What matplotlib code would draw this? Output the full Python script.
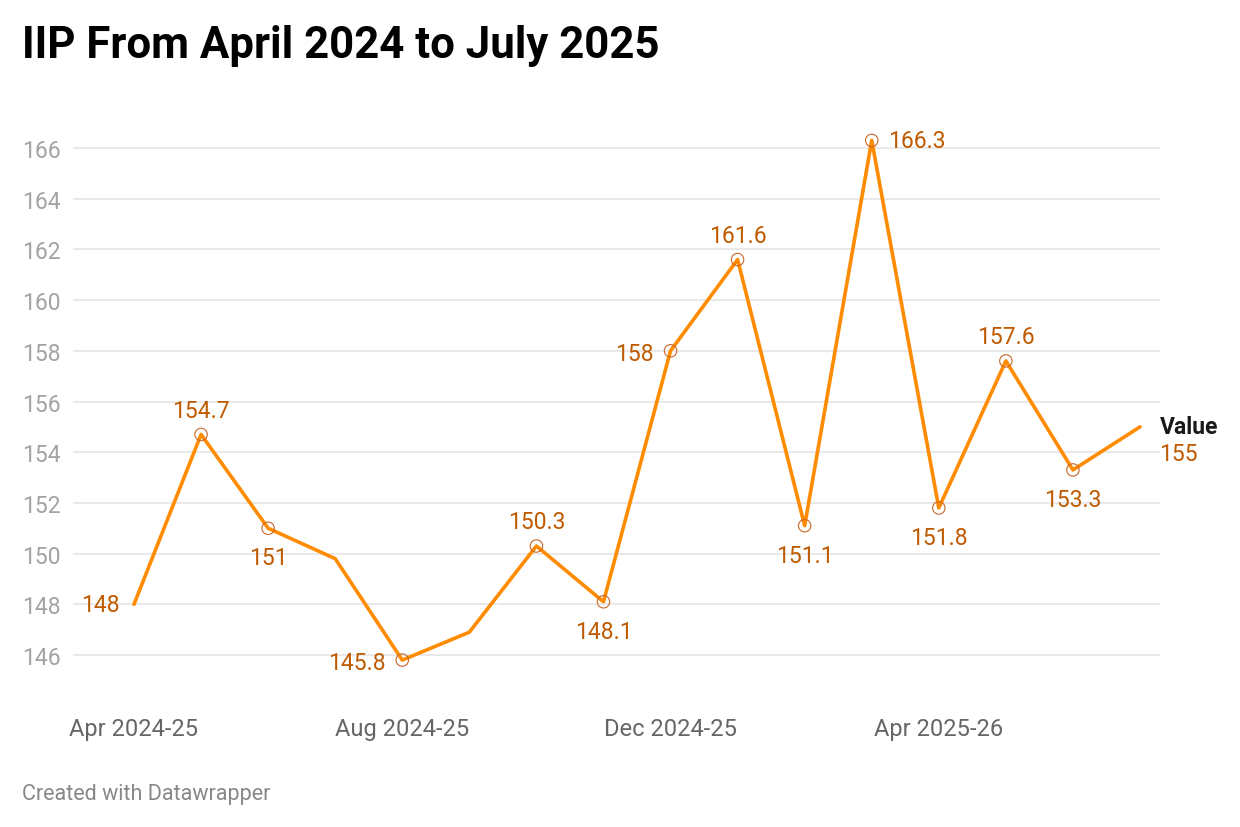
import matplotlib
matplotlib.use('Agg')
from matplotlib import pyplot as plt

# ---------------- data ----------------
months = ['Apr 2024', 'May 2024', 'Jun 2024', 'Jul 2024', 'Aug 2024', 'Sep 2024',
          'Oct 2024', 'Nov 2024', 'Dec 2024', 'Jan 2025', 'Feb 2025', 'Mar 2025',
          'Apr 2025', 'May 2025', 'Jun 2025', 'Jul 2025']
iip = [148, 154.7, 151, 149.8, 145.8, 146.9, 150.3, 148.1,
       158, 161.6, 151.1, 166.3, 151.8, 157.6, 153.3, 155]
# where each value label sits (None = no label / marker)
label_pos = ['start', 'above', 'below', None, 'left', None, 'above', 'below',
             'left', 'above', 'below', 'right', 'below', 'above', 'below', 'end']
xtick_idx = [0, 4, 8, 12]
xtick_labels = ['Apr 2024-25', 'Aug 2024-25', 'Dec 2024-25', 'Apr 2025-26']
yticks = [146, 148, 150, 152, 154, 156, 158, 160, 162, 164, 166]
# ---------------------------------------

LINE = '#ff8c00'
LABEL = '#c05a00'
plt.rcParams['font.family'] = ['Roboto', 'DejaVu Sans']

W, H = 1240, 828
fig = plt.figure(figsize=(W / 100, H / 100), dpi=100)
fig.patch.set_facecolor('white')

# axes placed in pixel terms
left, right, top, bottom = 73, 1160, 120, 690
ax = fig.add_axes([left / W, 1 - bottom / H, (right - left) / W, (bottom - top) / H])

ppu = (656 - 149) / 20.0   # pixels per unit on y
ax.set_ylim(146 - (bottom - 656) / ppu, 166 + (149 - top) / ppu)
step = (1140 - 134) / 15.0
ax.set_xlim(-(134 - left) / step, 15 + (right - 1140) / step)

x = list(range(len(iip)))
ax.plot(x, iip, color=LINE, linewidth=2.6, solid_capstyle='round', zorder=3)

mx = [i for i, p in enumerate(label_pos) if p in ('above', 'below', 'left', 'right')]
my = [iip[i] for i in mx]
ax.scatter(mx, my, s=80, facecolors='none', edgecolors='#c8682a', linewidths=0.8, zorder=4)

offsets = {
    'above': ((0, 9), 'center', 'bottom'),
    'below': ((0, -13), 'center', 'top'),
    'left': ((-12, -2), 'right', 'center'),
    'start': ((-10, 0), 'right', 'center'),
    'right': ((12, 0), 'left', 'center'),
}
for i, p in enumerate(label_pos):
    if p is None:
        continue
    txt = f'{iip[i]:g}'
    if p == 'end':
        ax.annotate('Value', (i, iip[i]), xytext=(14, 0), textcoords='offset points',
                    ha='left', va='center', fontsize=16.5, fontweight='bold',
                    color='#1a1a1a', annotation_clip=False)
        ax.annotate(txt, (i, iip[i]), xytext=(14, -19.5), textcoords='offset points',
                    ha='left', va='center', fontsize=16.5, color=LABEL,
                    annotation_clip=False)
        continue
    off, ha, va = offsets[p]
    ax.annotate(txt, (i, iip[i]), xytext=off, textcoords='offset points',
                ha=ha, va=va, fontsize=16.5, color=LABEL, annotation_clip=False, zorder=5)

ax.set_yticks(yticks)
ax.set_yticklabels([str(v) for v in yticks], fontsize=16.5, color='#a3a3a3')
ax.set_xticks(xtick_idx)
ax.set_xticklabels(xtick_labels, fontsize=17, color='#666666')
ax.tick_params(axis='x', length=0, pad=20)
for lab in ax.get_yticklabels():
    lab.set_horizontalalignment('left')
    lab.set_x(-(left - 22) / (right - left))
ax.tick_params(axis='y', length=0, pad=0)
ax.grid(axis='y', color='#e3e3e3', linewidth=1.1)
ax.grid(axis='x', visible=False)
ax.set_axisbelow(True)
for s in ax.spines.values():
    s.set_visible(False)

fig.text(22 / W, 1 - 46 / H, 'IIP From April 2024 to July 2025',
         fontweight='bold', fontsize=31.5, color='black', ha='left', va='center')
fig.text(22 / W, 1 - 795 / H, 'Created with Datawrapper',
         fontsize=15.5, color='#888888', ha='left', va='center')

fig.savefig('out.png', dpi=100, facecolor='white')
